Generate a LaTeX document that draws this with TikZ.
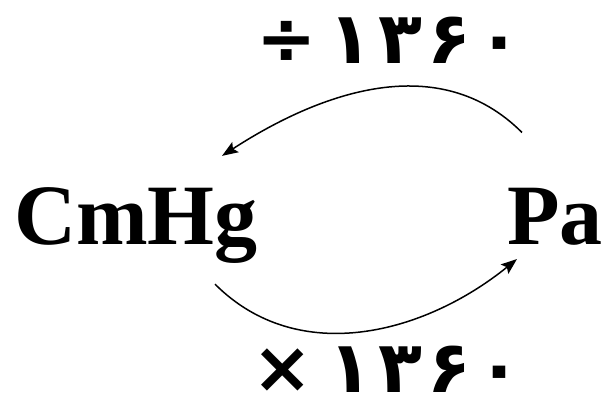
\documentclass[tikz,border=0pt]{standalone}
\usepackage{fontspec}
\setmainfont{Liberation Serif}
\newfontfamily\persianfont[Script=Arabic,LetterSpace=8]{DejaVu Sans}
\newfontfamily\opfont{DejaVu Sans}
\usetikzlibrary{arrows.meta,positioning}
\tikzset{
  unit/.style={inner sep=0pt,font=\fontsize{86}{86}\selectfont\bfseries},
  factor/.style={inner sep=0pt,font=\fontsize{72}{72}\selectfont\bfseries},
  conv/.style={-{Stealth[length=16pt,width=12pt,inset=3pt]},line width=1.5pt}
}
\begin{document}
\begin{tikzpicture}[x=1pt,y=1pt]
  \useasboundingbox (0,0) rectangle (606,-399);
  \node[unit,anchor=base west] (cmhg) at (14,-244) {CmHg};
  \node[unit,anchor=base west] (pa) at (507,-244) {Pa};
  \node[factor,anchor=base west] (divlbl) at (256,-63) {{\opfont ÷}\hspace{12pt}{\persianfont ۱۳۶۰}};
  \node[factor,anchor=base west] (mullbl) at (252,-392) {{\opfont ×}\hspace{16pt}{\persianfont ۱۳۶۰}};
  \draw[conv] ([xshift=15,yshift=55]pa.north west) to[out=135,in=33] ([xshift=-36,yshift=31]cmhg.north east);
  \draw[conv] ([xshift=-43,yshift=-21]cmhg.south east) to[out=-45,in=-141] ([xshift=10,yshift=-14]pa.south west);
\end{tikzpicture}
\end{document}
